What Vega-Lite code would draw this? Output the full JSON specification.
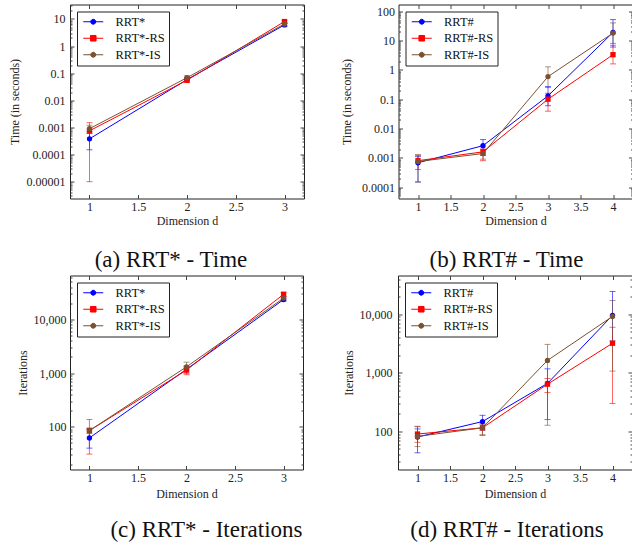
{
  "$schema": "https://vega.github.io/schema/vega-lite/v6.json",
  "background": "white",
  "padding": {"left": 8, "top": 3.5, "right": 0, "bottom": 0},
  "config": {
    "font": "Liberation Serif, Times New Roman, serif",
    "view": {"stroke": "#222222", "strokeWidth": 1},
    "axis": {
      "labelFont": "Liberation Serif, Times New Roman, serif",
      "titleFont": "Liberation Serif, Times New Roman, serif",
      "labelFontSize": 12,
      "titleFontSize": 12,
      "titleFontWeight": "normal",
      "labelColor": "#222222",
      "titleColor": "#222222",
      "tickColor": "#444444",
      "domain": false,
      "grid": false
    },
    "axisBottom": {"minExtent": 14, "maxExtent": 14, "labelPadding": 6.5, "tickSize": -4},
    "axisTop": {"minExtent": 0, "maxExtent": 0, "labels": false, "tickSize": -4},
    "axisRight": {"minExtent": 0, "maxExtent": 0, "labels": false},
    "legend": {
      "orient": "top-left",
      "offset": 7,
      "fillColor": "white",
      "strokeColor": "#222222",
      "padding": 4,
      "labelFont": "Liberation Serif, Times New Roman, serif",
      "labelFontSize": 12.5,
      "labelColor": "#111111",
      "symbolSize": 36,
      "symbolOffset": 6,
      "labelOffset": 16,
      "symbolStrokeWidth": 1,
      "symbolOpacity": 1,
      "rowPadding": 3.5
    },
    "title": {
      "font": "Liberation Serif, Times New Roman, serif",
      "fontSize": 23,
      "fontWeight": "normal",
      "color": "#111111",
      "orient": "bottom",
      "frame": "group"
    }
  },
  "datasets": {
    "rrtstar_time": [
      {"d": 1, "method": "RRT*", "mean": 0.00038, "lo": 0.00015, "hi": 0.0006},
      {"d": 2, "method": "RRT*", "mean": 0.058, "lo": 0.05, "hi": 0.068},
      {"d": 3, "method": "RRT*", "mean": 6.0, "lo": 5.3, "hi": 6.8},
      {"d": 1, "method": "RRT*-RS", "mean": 0.00075, "lo": 0.00001, "hi": 0.0015},
      {"d": 2, "method": "RRT*-RS", "mean": 0.055, "lo": 0.045, "hi": 0.068},
      {"d": 3, "method": "RRT*-RS", "mean": 8.0, "lo": 7.0, "hi": 9.0},
      {"d": 1, "method": "RRT*-IS", "mean": 0.0009, "lo": 0.0007, "hi": 0.0012},
      {"d": 2, "method": "RRT*-IS", "mean": 0.068, "lo": 0.058, "hi": 0.08},
      {"d": 3, "method": "RRT*-IS", "mean": 6.5, "lo": 5.8, "hi": 7.3}
    ],
    "rrtsharp_time": [
      {"d": 1, "method": "RRT#", "mean": 0.00068, "lo": 0.00015, "hi": 0.0011},
      {"d": 2, "method": "RRT#", "mean": 0.0026, "lo": 0.0012, "hi": 0.0042},
      {"d": 3, "method": "RRT#", "mean": 0.13, "lo": 0.06, "hi": 0.27},
      {"d": 4, "method": "RRT#", "mean": 19, "lo": 6, "hi": 52},
      {"d": 1, "method": "RRT#-RS", "mean": 0.0008, "lo": 0.0004, "hi": 0.0012},
      {"d": 2, "method": "RRT#-RS", "mean": 0.0016, "lo": 0.0008, "hi": 0.002},
      {"d": 3, "method": "RRT#-RS", "mean": 0.1, "lo": 0.039, "hi": 0.16},
      {"d": 4, "method": "RRT#-RS", "mean": 3.3, "lo": 1.6, "hi": 6.9},
      {"d": 1, "method": "RRT#-IS", "mean": 0.00075, "lo": 0.00015, "hi": 0.0013},
      {"d": 2, "method": "RRT#-IS", "mean": 0.0014, "lo": 0.0009, "hi": 0.0019},
      {"d": 3, "method": "RRT#-IS", "mean": 0.59, "lo": 0.25, "hi": 1.27},
      {"d": 4, "method": "RRT#-IS", "mean": 18, "lo": 8, "hi": 40}
    ],
    "rrtstar_iter": [
      {"d": 1, "method": "RRT*", "mean": 62, "lo": 40, "hi": 90},
      {"d": 2, "method": "RRT*", "mean": 1180, "lo": 1000, "hi": 1350},
      {"d": 3, "method": "RRT*", "mean": 23500, "lo": 22000, "hi": 25000},
      {"d": 1, "method": "RRT*-RS", "mean": 85, "lo": 31, "hi": 137},
      {"d": 2, "method": "RRT*-RS", "mean": 1140, "lo": 935, "hi": 1300},
      {"d": 3, "method": "RRT*-RS", "mean": 29500, "lo": 27000, "hi": 32000},
      {"d": 1, "method": "RRT*-IS", "mean": 85, "lo": 75, "hi": 95},
      {"d": 2, "method": "RRT*-IS", "mean": 1310, "lo": 1100, "hi": 1600},
      {"d": 3, "method": "RRT*-IS", "mean": 25000, "lo": 23000, "hi": 27000}
    ],
    "rrtsharp_iter": [
      {"d": 1, "method": "RRT#", "mean": 80, "lo": 43, "hi": 110},
      {"d": 2, "method": "RRT#", "mean": 147, "lo": 105, "hi": 188},
      {"d": 3, "method": "RRT#", "mean": 660, "lo": 159, "hi": 1170},
      {"d": 4, "method": "RRT#", "mean": 9600, "lo": 3500, "hi": 24500},
      {"d": 1, "method": "RRT#-RS", "mean": 90, "lo": 65, "hi": 120},
      {"d": 2, "method": "RRT#-RS", "mean": 115, "lo": 85, "hi": 135},
      {"d": 3, "method": "RRT#-RS", "mean": 640, "lo": 460, "hi": 800},
      {"d": 4, "method": "RRT#-RS", "mean": 3200, "lo": 300, "hi": 6000},
      {"d": 1, "method": "RRT#-IS", "mean": 82, "lo": 55, "hi": 122},
      {"d": 2, "method": "RRT#-IS", "mean": 115, "lo": 88, "hi": 130},
      {"d": 3, "method": "RRT#-IS", "mean": 1630, "lo": 127, "hi": 3060},
      {"d": 4, "method": "RRT#-IS", "mean": 9200, "lo": 1070, "hi": 17200}
    ]
  },
  "resolve": {"scale": {"color": "independent", "shape": "independent", "stroke": "independent"}, "legend": {"color": "independent", "shape": "independent", "stroke": "independent"}},
  "spacing": 2,
  "vconcat": [
    {
      "spacing": 34.5,
      "resolve": {"scale": {"color": "independent", "shape": "independent", "stroke": "independent"}, "legend": {"color": "independent", "shape": "independent", "stroke": "independent"}},
      "hconcat": [
        {
          "width": 234,
          "height": 194,
          "data": {"name": "rrtstar_time"},
          "title": {"text": "(a) RRT* - Time", "dx": -16, "offset": 22.5},
          "resolve": {"axis": {"x": "independent", "y": "independent"}},
          "layer": [
            {
              "transform": [{"filter": "false"}],
              "mark": {"type": "point", "filled": true},
              "encoding": {
                "x": {"field": "d", "type": "quantitative", "axis": null},
                "y": {"field": "mean", "type": "quantitative", "axis": null},
                "color": {"field": "method", "type": "nominal", "scale": {"domain": ["RRT*", "RRT*-RS", "RRT*-IS"], "range": ["#0000ff", "#ff0000", "#7a5230"]}, "legend": {"title": null}},
                "stroke": {"field": "method", "type": "nominal", "scale": {"domain": ["RRT*", "RRT*-RS", "RRT*-IS"], "range": ["#0000ff", "#ff0000", "#7a5230"]}, "legend": {"title": null}},
                "shape": {"field": "method", "type": "nominal", "scale": {"domain": ["RRT*", "RRT*-RS", "RRT*-IS"],
                  "range": ["M-3.33,0H3.33M0.83,0L0.719,0.415L0.415,0.719L0,0.83L-0.415,0.719L-0.719,0.415L-0.83,0L-0.719,-0.415L-0.415,-0.719L0,-0.83L0.415,-0.719L0.719,-0.415Z", "M-3.33,0H3.33M-0.93,-0.93H0.93V0.93H-0.93Z", "M-3.33,0H3.33M0.83,0L0.719,0.415L0.415,0.719L0,0.83L-0.415,0.719L-0.719,0.415L-0.83,0L-0.719,-0.415L-0.415,-0.719L0,-0.83L0.415,-0.719L0.719,-0.415Z"]}, "legend": {"title": null}}
              }
            },
            {
              "mark": {"type": "errorbar", "opacity": 0.6, "thickness": 1, "ticks": {"size": 6}},
              "encoding": {
                "x": {"field": "d", "type": "quantitative", "scale": {"domain": [0.8, 3.2], "nice": false, "zero": false},
                  "axis": {"orient": "bottom", "values": [1, 1.5, 2, 2.5, 3], "format": "~g", "title": "Dimension d", "titlePadding": 3}},
                "y": {"field": "lo", "type": "quantitative", "scale": {"type": "log", "domain": [2.4e-6, 34], "nice": false},
                  "axis": {"orient": "left", "title": "Time (in seconds)", "titlePadding": 4.5, "labelPadding": 9, "minExtent": 44, "maxExtent": 44, "labelOverlap": false,
                    "values": [3e-6, 4e-6, 5e-6, 6e-6, 7e-6, 8e-6, 9e-6, 1e-5, 2e-5, 3e-5, 4e-5, 5e-5, 6e-5, 7e-5, 8e-5, 9e-5, 0.0001, 0.0002, 0.0003, 0.0004, 0.0005, 0.0006, 0.0007, 0.0008, 0.0009, 0.001, 0.002, 0.003, 0.004, 0.005, 0.006, 0.007, 0.008, 0.009, 0.01, 0.02, 0.03, 0.04, 0.05, 0.06, 0.07, 0.08, 0.09, 0.1, 0.2, 0.3, 0.4, 0.5, 0.6, 0.7, 0.8, 0.9, 1, 2, 3, 4, 5, 6, 7, 8, 9, 10, 20, 30],
                    "labelExpr": "abs(log(datum.value)/LN10 - round(log(datum.value)/LN10)) < 0.001 ? format(datum.value, ',.5~f') : ''",
                    "labelFontSize": {"condition": {"test": "abs(log(datum.value)/LN10 - round(log(datum.value)/LN10)) < 0.001", "value": 12}, "value": 0},
                    "tickSize": {"condition": {"test": "abs(log(datum.value)/LN10 - round(log(datum.value)/LN10)) < 0.001", "value": -4}, "value": -2}}},
                "y2": {"field": "hi"},
                "color": {"field": "method", "type": "nominal", "scale": {"domain": ["RRT*", "RRT*-RS", "RRT*-IS"], "range": ["#0000ff", "#ff0000", "#7a5230"]}, "legend": null}
              }
            },
            {
              "mark": {"type": "line", "strokeWidth": 1},
              "encoding": {
                "x": {"field": "d", "type": "quantitative", "scale": {"domain": [0.8, 3.2], "nice": false, "zero": false},
                  "axis": {"orient": "top", "values": [1, 1.5, 2, 2.5, 3], "title": null}},
                "y": {"field": "mean", "type": "quantitative", "scale": {"type": "log", "domain": [2.4e-6, 34], "nice": false},
                  "axis": {"orient": "right", "title": null,
                    "values": [3e-6, 4e-6, 5e-6, 6e-6, 7e-6, 8e-6, 9e-6, 1e-5, 2e-5, 3e-5, 4e-5, 5e-5, 6e-5, 7e-5, 8e-5, 9e-5, 0.0001, 0.0002, 0.0003, 0.0004, 0.0005, 0.0006, 0.0007, 0.0008, 0.0009, 0.001, 0.002, 0.003, 0.004, 0.005, 0.006, 0.007, 0.008, 0.009, 0.01, 0.02, 0.03, 0.04, 0.05, 0.06, 0.07, 0.08, 0.09, 0.1, 0.2, 0.3, 0.4, 0.5, 0.6, 0.7, 0.8, 0.9, 1, 2, 3, 4, 5, 6, 7, 8, 9, 10, 20, 30],
                    "tickSize": {"condition": {"test": "abs(log(datum.value)/LN10 - round(log(datum.value)/LN10)) < 0.001", "value": -4}, "value": -2}}},
                "color": {"field": "method", "type": "nominal", "scale": {"domain": ["RRT*", "RRT*-RS", "RRT*-IS"], "range": ["#0000ff", "#ff0000", "#7a5230"]}, "legend": null}
              }
            },
            {
              "mark": {"type": "point", "filled": true, "opacity": 1, "size": 28},
              "encoding": {
                "x": {"field": "d", "type": "quantitative", "axis": null},
                "y": {"field": "mean", "type": "quantitative", "axis": null},
                "color": {"field": "method", "type": "nominal", "scale": {"domain": ["RRT*", "RRT*-RS", "RRT*-IS"], "range": ["#0000ff", "#ff0000", "#7a5230"]}, "legend": null},
                "shape": {"condition": {"test": "datum.method === 'RRT*-RS'", "value": "square"}, "value": "circle"}
              }
            }
          ]
        },
        {
          "width": 234,
          "height": 194,
          "data": {"name": "rrtsharp_time"},
          "title": {"text": "(b) RRT# - Time", "dx": -9, "offset": 22.5},
          "resolve": {"axis": {"x": "independent", "y": "independent"}},
          "layer": [
            {
              "transform": [{"filter": "false"}],
              "mark": {"type": "point", "filled": true},
              "encoding": {
                "x": {"field": "d", "type": "quantitative", "axis": null},
                "y": {"field": "mean", "type": "quantitative", "axis": null},
                "color": {"field": "method", "type": "nominal", "scale": {"domain": ["RRT#", "RRT#-RS", "RRT#-IS"], "range": ["#0000ff", "#ff0000", "#7a5230"]}, "legend": {"title": null}},
                "stroke": {"field": "method", "type": "nominal", "scale": {"domain": ["RRT#", "RRT#-RS", "RRT#-IS"], "range": ["#0000ff", "#ff0000", "#7a5230"]}, "legend": {"title": null}},
                "shape": {"field": "method", "type": "nominal", "scale": {"domain": ["RRT#", "RRT#-RS", "RRT#-IS"],
                  "range": ["M-3.33,0H3.33M0.83,0L0.719,0.415L0.415,0.719L0,0.83L-0.415,0.719L-0.719,0.415L-0.83,0L-0.719,-0.415L-0.415,-0.719L0,-0.83L0.415,-0.719L0.719,-0.415Z", "M-3.33,0H3.33M-0.93,-0.93H0.93V0.93H-0.93Z", "M-3.33,0H3.33M0.83,0L0.719,0.415L0.415,0.719L0,0.83L-0.415,0.719L-0.719,0.415L-0.83,0L-0.719,-0.415L-0.415,-0.719L0,-0.83L0.415,-0.719L0.719,-0.415Z"]}, "legend": {"title": null}}
              }
            },
            {
              "mark": {"type": "errorbar", "opacity": 0.6, "thickness": 1, "ticks": {"size": 6}},
              "encoding": {
                "x": {"field": "d", "type": "quantitative", "scale": {"domain": [0.7, 4.3], "nice": false, "zero": false},
                  "axis": {"orient": "bottom", "values": [1, 1.5, 2, 2.5, 3, 3.5, 4], "format": "~g", "title": "Dimension d", "titlePadding": 3}},
                "y": {"field": "lo", "type": "quantitative", "scale": {"type": "log", "domain": [4.1e-5, 170], "nice": false},
                  "axis": {"orient": "left", "title": "Time (in seconds)", "titlePadding": 8, "labelPadding": 8, "minExtent": 37, "maxExtent": 37, "labelOverlap": false,
                    "values": [5e-5, 6e-5, 7e-5, 8e-5, 9e-5, 0.0001, 0.0002, 0.0003, 0.0004, 0.0005, 0.0006, 0.0007, 0.0008, 0.0009, 0.001, 0.002, 0.003, 0.004, 0.005, 0.006, 0.007, 0.008, 0.009, 0.01, 0.02, 0.03, 0.04, 0.05, 0.06, 0.07, 0.08, 0.09, 0.1, 0.2, 0.3, 0.4, 0.5, 0.6, 0.7, 0.8, 0.9, 1, 2, 3, 4, 5, 6, 7, 8, 9, 10, 20, 30, 40, 50, 60, 70, 80, 90, 100],
                    "labelExpr": "abs(log(datum.value)/LN10 - round(log(datum.value)/LN10)) < 0.001 ? format(datum.value, ',.5~f') : ''",
                    "labelFontSize": {"condition": {"test": "abs(log(datum.value)/LN10 - round(log(datum.value)/LN10)) < 0.001", "value": 12}, "value": 0},
                    "tickSize": {"condition": {"test": "abs(log(datum.value)/LN10 - round(log(datum.value)/LN10)) < 0.001", "value": -4}, "value": -2}}},
                "y2": {"field": "hi"},
                "color": {"field": "method", "type": "nominal", "scale": {"domain": ["RRT#", "RRT#-RS", "RRT#-IS"], "range": ["#0000ff", "#ff0000", "#7a5230"]}, "legend": null}
              }
            },
            {
              "mark": {"type": "line", "strokeWidth": 1},
              "encoding": {
                "x": {"field": "d", "type": "quantitative", "scale": {"domain": [0.7, 4.3], "nice": false, "zero": false},
                  "axis": {"orient": "top", "values": [1, 1.5, 2, 2.5, 3, 3.5, 4], "title": null}},
                "y": {"field": "mean", "type": "quantitative", "scale": {"type": "log", "domain": [4.1e-5, 170], "nice": false},
                  "axis": {"orient": "right", "title": null,
                    "values": [5e-5, 6e-5, 7e-5, 8e-5, 9e-5, 0.0001, 0.0002, 0.0003, 0.0004, 0.0005, 0.0006, 0.0007, 0.0008, 0.0009, 0.001, 0.002, 0.003, 0.004, 0.005, 0.006, 0.007, 0.008, 0.009, 0.01, 0.02, 0.03, 0.04, 0.05, 0.06, 0.07, 0.08, 0.09, 0.1, 0.2, 0.3, 0.4, 0.5, 0.6, 0.7, 0.8, 0.9, 1, 2, 3, 4, 5, 6, 7, 8, 9, 10, 20, 30, 40, 50, 60, 70, 80, 90, 100],
                    "tickSize": {"condition": {"test": "abs(log(datum.value)/LN10 - round(log(datum.value)/LN10)) < 0.001", "value": -4}, "value": -2}}},
                "color": {"field": "method", "type": "nominal", "scale": {"domain": ["RRT#", "RRT#-RS", "RRT#-IS"], "range": ["#0000ff", "#ff0000", "#7a5230"]}, "legend": null}
              }
            },
            {
              "mark": {"type": "point", "filled": true, "opacity": 1, "size": 28},
              "encoding": {
                "x": {"field": "d", "type": "quantitative", "axis": null},
                "y": {"field": "mean", "type": "quantitative", "axis": null},
                "color": {"field": "method", "type": "nominal", "scale": {"domain": ["RRT#", "RRT#-RS", "RRT#-IS"], "range": ["#0000ff", "#ff0000", "#7a5230"]}, "legend": null},
                "shape": {"condition": {"test": "datum.method === 'RRT#-RS'", "value": "square"}, "value": "circle"}
              }
            }
          ]
        }
      ]
    },
    {
      "spacing": 37,
      "resolve": {"scale": {"color": "independent", "shape": "independent", "stroke": "independent"}, "legend": {"color": "independent", "shape": "independent", "stroke": "independent"}},
      "hconcat": [
        {
          "width": 233,
          "height": 194,
          "data": {"name": "rrtstar_iter"},
          "title": {"text": "(c) RRT* - Iterations", "dx": 20, "offset": 19},
          "resolve": {"axis": {"x": "independent", "y": "independent"}},
          "layer": [
            {
              "transform": [{"filter": "false"}],
              "mark": {"type": "point", "filled": true},
              "encoding": {
                "x": {"field": "d", "type": "quantitative", "axis": null},
                "y": {"field": "mean", "type": "quantitative", "axis": null},
                "color": {"field": "method", "type": "nominal", "scale": {"domain": ["RRT*", "RRT*-RS", "RRT*-IS"], "range": ["#0000ff", "#ff0000", "#7a5230"]}, "legend": {"title": null}},
                "stroke": {"field": "method", "type": "nominal", "scale": {"domain": ["RRT*", "RRT*-RS", "RRT*-IS"], "range": ["#0000ff", "#ff0000", "#7a5230"]}, "legend": {"title": null}},
                "shape": {"field": "method", "type": "nominal", "scale": {"domain": ["RRT*", "RRT*-RS", "RRT*-IS"],
                  "range": ["M-3.33,0H3.33M0.83,0L0.719,0.415L0.415,0.719L0,0.83L-0.415,0.719L-0.719,0.415L-0.83,0L-0.719,-0.415L-0.415,-0.719L0,-0.83L0.415,-0.719L0.719,-0.415Z", "M-3.33,0H3.33M-0.93,-0.93H0.93V0.93H-0.93Z", "M-3.33,0H3.33M0.83,0L0.719,0.415L0.415,0.719L0,0.83L-0.415,0.719L-0.719,0.415L-0.83,0L-0.719,-0.415L-0.415,-0.719L0,-0.83L0.415,-0.719L0.719,-0.415Z"]}, "legend": {"title": null}}
              }
            },
            {
              "mark": {"type": "errorbar", "opacity": 0.6, "thickness": 1, "ticks": {"size": 6}},
              "encoding": {
                "x": {"field": "d", "type": "quantitative", "scale": {"domain": [0.8, 3.2], "nice": false, "zero": false},
                  "axis": {"orient": "bottom", "values": [1, 1.5, 2, 2.5, 3], "format": "~g", "title": "Dimension d", "titlePadding": 5}},
                "y": {"field": "lo", "type": "quantitative", "scale": {"type": "log", "domain": [16, 66000], "nice": false},
                  "axis": {"orient": "left", "title": "Iterations", "titlePadding": 2.5, "labelPadding": 8, "minExtent": 38, "maxExtent": 38, "labelOverlap": false,
                    "values": [20, 30, 40, 50, 60, 70, 80, 90, 100, 200, 300, 400, 500, 600, 700, 800, 900, 1000, 2000, 3000, 4000, 5000, 6000, 7000, 8000, 9000, 10000, 20000, 30000, 40000, 50000, 60000],
                    "labelExpr": "abs(log(datum.value)/LN10 - round(log(datum.value)/LN10)) < 0.001 ? format(datum.value, ',.5~f') : ''",
                    "labelFontSize": {"condition": {"test": "abs(log(datum.value)/LN10 - round(log(datum.value)/LN10)) < 0.001", "value": 12}, "value": 0},
                    "tickSize": {"condition": {"test": "abs(log(datum.value)/LN10 - round(log(datum.value)/LN10)) < 0.001", "value": -4}, "value": -2}}},
                "y2": {"field": "hi"},
                "color": {"field": "method", "type": "nominal", "scale": {"domain": ["RRT*", "RRT*-RS", "RRT*-IS"], "range": ["#0000ff", "#ff0000", "#7a5230"]}, "legend": null}
              }
            },
            {
              "mark": {"type": "line", "strokeWidth": 1},
              "encoding": {
                "x": {"field": "d", "type": "quantitative", "scale": {"domain": [0.8, 3.2], "nice": false, "zero": false},
                  "axis": {"orient": "top", "values": [1, 1.5, 2, 2.5, 3], "title": null}},
                "y": {"field": "mean", "type": "quantitative", "scale": {"type": "log", "domain": [16, 66000], "nice": false},
                  "axis": {"orient": "right", "title": null,
                    "values": [20, 30, 40, 50, 60, 70, 80, 90, 100, 200, 300, 400, 500, 600, 700, 800, 900, 1000, 2000, 3000, 4000, 5000, 6000, 7000, 8000, 9000, 10000, 20000, 30000, 40000, 50000, 60000],
                    "tickSize": {"condition": {"test": "abs(log(datum.value)/LN10 - round(log(datum.value)/LN10)) < 0.001", "value": -4}, "value": -2}}},
                "color": {"field": "method", "type": "nominal", "scale": {"domain": ["RRT*", "RRT*-RS", "RRT*-IS"], "range": ["#0000ff", "#ff0000", "#7a5230"]}, "legend": null}
              }
            },
            {
              "mark": {"type": "point", "filled": true, "opacity": 1, "size": 28},
              "encoding": {
                "x": {"field": "d", "type": "quantitative", "axis": null},
                "y": {"field": "mean", "type": "quantitative", "axis": null},
                "color": {"field": "method", "type": "nominal", "scale": {"domain": ["RRT*", "RRT*-RS", "RRT*-IS"], "range": ["#0000ff", "#ff0000", "#7a5230"]}, "legend": null},
                "shape": {"condition": {"test": "datum.method === 'RRT*-RS'", "value": "square"}, "value": "circle"}
              }
            }
          ]
        },
        {
          "width": 234,
          "height": 194,
          "data": {"name": "rrtsharp_iter"},
          "title": {"text": "(d) RRT# - Iterations", "dx": -8, "offset": 19},
          "resolve": {"axis": {"x": "independent", "y": "independent"}},
          "layer": [
            {
              "transform": [{"filter": "false"}],
              "mark": {"type": "point", "filled": true},
              "encoding": {
                "x": {"field": "d", "type": "quantitative", "axis": null},
                "y": {"field": "mean", "type": "quantitative", "axis": null},
                "color": {"field": "method", "type": "nominal", "scale": {"domain": ["RRT#", "RRT#-RS", "RRT#-IS"], "range": ["#0000ff", "#ff0000", "#7a5230"]}, "legend": {"title": null}},
                "stroke": {"field": "method", "type": "nominal", "scale": {"domain": ["RRT#", "RRT#-RS", "RRT#-IS"], "range": ["#0000ff", "#ff0000", "#7a5230"]}, "legend": {"title": null}},
                "shape": {"field": "method", "type": "nominal", "scale": {"domain": ["RRT#", "RRT#-RS", "RRT#-IS"],
                  "range": ["M-3.33,0H3.33M0.83,0L0.719,0.415L0.415,0.719L0,0.83L-0.415,0.719L-0.719,0.415L-0.83,0L-0.719,-0.415L-0.415,-0.719L0,-0.83L0.415,-0.719L0.719,-0.415Z", "M-3.33,0H3.33M-0.93,-0.93H0.93V0.93H-0.93Z", "M-3.33,0H3.33M0.83,0L0.719,0.415L0.415,0.719L0,0.83L-0.415,0.719L-0.719,0.415L-0.83,0L-0.719,-0.415L-0.415,-0.719L0,-0.83L0.415,-0.719L0.719,-0.415Z"]}, "legend": {"title": null}}
              }
            },
            {
              "mark": {"type": "errorbar", "opacity": 0.6, "thickness": 1, "ticks": {"size": 6}},
              "encoding": {
                "x": {"field": "d", "type": "quantitative", "scale": {"domain": [0.7, 4.3], "nice": false, "zero": false},
                  "axis": {"orient": "bottom", "values": [1, 1.5, 2, 2.5, 3, 3.5, 4], "format": "~g", "title": "Dimension d", "titlePadding": 5}},
                "y": {"field": "lo", "type": "quantitative", "scale": {"type": "log", "domain": [22.3, 46000], "nice": false},
                  "axis": {"orient": "left", "title": "Iterations", "titlePadding": 4, "labelPadding": 10, "minExtent": 39, "maxExtent": 39, "labelOverlap": false,
                    "values": [30, 40, 50, 60, 70, 80, 90, 100, 200, 300, 400, 500, 600, 700, 800, 900, 1000, 2000, 3000, 4000, 5000, 6000, 7000, 8000, 9000, 10000, 20000, 30000, 40000],
                    "labelExpr": "abs(log(datum.value)/LN10 - round(log(datum.value)/LN10)) < 0.001 ? format(datum.value, ',.5~f') : ''",
                    "labelFontSize": {"condition": {"test": "abs(log(datum.value)/LN10 - round(log(datum.value)/LN10)) < 0.001", "value": 12}, "value": 0},
                    "tickSize": {"condition": {"test": "abs(log(datum.value)/LN10 - round(log(datum.value)/LN10)) < 0.001", "value": -4}, "value": -2}}},
                "y2": {"field": "hi"},
                "color": {"field": "method", "type": "nominal", "scale": {"domain": ["RRT#", "RRT#-RS", "RRT#-IS"], "range": ["#0000ff", "#ff0000", "#7a5230"]}, "legend": null}
              }
            },
            {
              "mark": {"type": "line", "strokeWidth": 1},
              "encoding": {
                "x": {"field": "d", "type": "quantitative", "scale": {"domain": [0.7, 4.3], "nice": false, "zero": false},
                  "axis": {"orient": "top", "values": [1, 1.5, 2, 2.5, 3, 3.5, 4], "title": null}},
                "y": {"field": "mean", "type": "quantitative", "scale": {"type": "log", "domain": [22.3, 46000], "nice": false},
                  "axis": {"orient": "right", "title": null,
                    "values": [30, 40, 50, 60, 70, 80, 90, 100, 200, 300, 400, 500, 600, 700, 800, 900, 1000, 2000, 3000, 4000, 5000, 6000, 7000, 8000, 9000, 10000, 20000, 30000, 40000],
                    "tickSize": {"condition": {"test": "abs(log(datum.value)/LN10 - round(log(datum.value)/LN10)) < 0.001", "value": -4}, "value": -2}}},
                "color": {"field": "method", "type": "nominal", "scale": {"domain": ["RRT#", "RRT#-RS", "RRT#-IS"], "range": ["#0000ff", "#ff0000", "#7a5230"]}, "legend": null}
              }
            },
            {
              "mark": {"type": "point", "filled": true, "opacity": 1, "size": 28},
              "encoding": {
                "x": {"field": "d", "type": "quantitative", "axis": null},
                "y": {"field": "mean", "type": "quantitative", "axis": null},
                "color": {"field": "method", "type": "nominal", "scale": {"domain": ["RRT#", "RRT#-RS", "RRT#-IS"], "range": ["#0000ff", "#ff0000", "#7a5230"]}, "legend": null},
                "shape": {"condition": {"test": "datum.method === 'RRT#-RS'", "value": "square"}, "value": "circle"}
              }
            }
          ]
        }
      ]
    }
  ]
}
